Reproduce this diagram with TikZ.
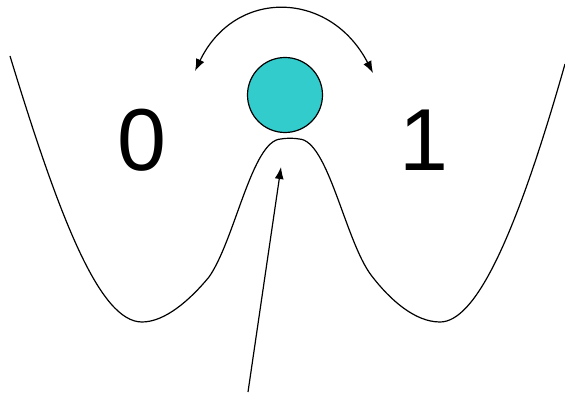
\documentclass[tikz,border=0pt]{standalone}
\usepackage{fontspec}
\setmainfont{Liberation Sans}
\usetikzlibrary{arrows.meta}
\definecolor{ballcol}{HTML}{33CCCC}
\begin{document}
\begin{tikzpicture}[x=1pt,y=-1pt,
  curve/.style={line width=1.2pt,line join=round},
  arr/.style={line width=1.2pt,-{Latex[length=12pt,width=9pt]}},
  darr/.style={line width=1.2pt,{Latex[length=12pt,width=9pt]}-{Latex[length=12pt,width=9pt]}},
  digit/.style={font=\fontsize{88}{88}\selectfont,inner sep=0pt},
  ball/.style={circle,draw=black,line width=1.2pt,fill=ballcol,minimum size=75pt,inner sep=0pt}]
\useasboundingbox (0,0) rectangle (565,395);
\draw[curve] (10,56) .. controls (60,220) and (100,322) .. (142,322)
  .. controls (165,322) and (190,300) .. (209,277)
  .. controls (235,240) and (252,140) .. (281,139)
  .. controls (285,138) and (295,138) .. (299,139)
  .. controls (328,140) and (345,240) .. (371,275)
  .. controls (390,300) and (415,322) .. (440,322)
  .. controls (475,322) and (515,240) .. (565,64);
\node[ball] (ball) at (285,95) {};
\node[digit] (zero) at (142,140) {0};
\node[digit] (one) at (424,140) {1};
\coordinate (aL) at (195,71);
\coordinate (aR) at (373,73);
\draw[darr] (aL) .. controls (235,-12) and (330,-10) .. (aR);
\coordinate (tail) at (248,392);
\coordinate (tip) at (281,167);
\draw[arr] (tail) -- (tip);
\end{tikzpicture}
\end{document}
